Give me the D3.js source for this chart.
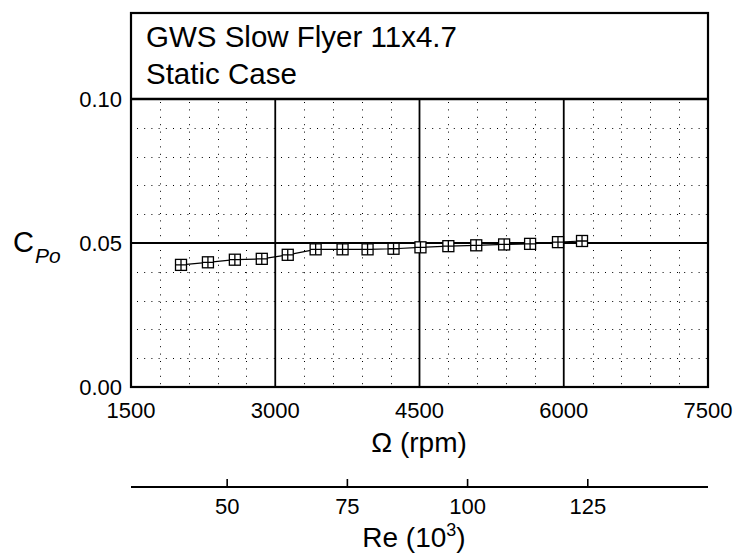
<!DOCTYPE html>
<html><head><meta charset="utf-8">
<script src="https://cdn.jsdelivr.net/npm/d3@7"></script>
<style>body{margin:0;background:#fff}svg{font-family:"Liberation Sans",Arial,sans-serif}</style>
</head><body><svg id="c" width="737" height="558"></svg>
<script>
const rpm = [2020, 2300, 2580, 2860, 3130, 3420, 3700, 3960, 4230, 4510, 4800, 5090, 5380, 5650, 5940, 6190];
const cpo = [0.0424, 0.0433, 0.0442, 0.0445, 0.0459, 0.0478, 0.0478, 0.0478, 0.0480, 0.0485, 0.0489, 0.0492, 0.0495, 0.0497, 0.0503, 0.0507];
const xTicks = [1500, 3000, 4500, 6000, 7500];
const yTicks = [0.00, 0.05, 0.10];
const reTicks = [50, 75, 100, 125];
const titleLines = ["GWS Slow Flyer 11x4.7", "Static Case"];

const svg = d3.select("#c");
const L = 131, R = 708, T = 99, B = 387;
const x = d3.scaleLinear().domain([1500, 7500]).range([L, R]);
const y = d3.scaleLinear().domain([0, 0.10]).range([B, T]);
const re = d3.scaleLinear().domain([30, 150]).range([L, R]);

// minor dotted grid
const xMinor = d3.range(1500, 7501, 300).filter(v => !xTicks.includes(v));
const yMinor = d3.range(0, 11).map(i => i / 100).filter(v => Math.abs(v - 0.05) > 1e-9 && v > 0 && v < 0.1);
const g = svg.append("g");
g.selectAll(".vx").data(xMinor).join("line")
  .attr("x1", d => Math.round(x(d)) + 0.5).attr("x2", d => Math.round(x(d)) + 0.5)
  .attr("y1", T + 3).attr("y2", B)
  .attr("stroke", "#000").attr("stroke-width", 1).attr("stroke-dasharray", "1 6.4");
g.selectAll(".hy").data(yMinor).join("line")
  .attr("y1", d => Math.round(y(d)) + 0.5).attr("y2", d => Math.round(y(d)) + 0.5)
  .attr("x1", L + 6).attr("x2", R)
  .attr("stroke", "#000").attr("stroke-width", 1).attr("stroke-dasharray", "1 6.2");

// major solid grid
g.selectAll(".mx").data(xTicks.slice(1, -1)).join("line")
  .attr("x1", d => x(d)).attr("x2", d => x(d)).attr("y1", T).attr("y2", B)
  .attr("stroke", "#000").attr("stroke-width", 1.8);
g.selectAll(".my").data(yTicks.slice(1, -1)).join("line")
  .attr("y1", d => y(d)).attr("y2", d => y(d)).attr("x1", L).attr("x2", R)
  .attr("stroke", "#000").attr("stroke-width", 2);

// frame and title box
svg.append("rect").attr("x", L).attr("y", 13).attr("width", R - L).attr("height", B - 13)
  .attr("fill", "none").attr("stroke", "#000").attr("stroke-width", 2.2);
svg.append("line").attr("x1", L).attr("x2", R).attr("y1", T).attr("y2", T)
  .attr("stroke", "#000").attr("stroke-width", 2.4);
titleLines.forEach((t, i) => {
  svg.append("text").attr("x", 146).attr("y", 47 + i * 37).attr("font-size", 29.5).text(t);
});

// y tick labels
svg.selectAll(".yl").data(yTicks).join("text")
  .attr("x", 122).attr("y", d => y(d) + 8).attr("text-anchor", "end").attr("font-size", 22)
  .text(d => d3.format(".2f")(d));
// x tick labels
svg.selectAll(".xl").data(xTicks).join("text")
  .attr("x", d => x(d)).attr("y", 418).attr("text-anchor", "middle").attr("font-size", 22)
  .text(d => d);

// axis titles
svg.append("text").attr("x", 419).attr("y", 452).attr("text-anchor", "middle").attr("font-size", 28)
  .text("Ω (rpm)");
const cy = svg.append("text").attr("x", 13).attr("y", 252).attr("font-size", 29);
cy.append("tspan").text("C");
cy.append("tspan").attr("font-size", 21).attr("font-style", "italic").attr("dx", 1).attr("dy", 11).text("Po");

// data
const line = d3.line().x(d => x(d[0])).y(d => y(d[1]));
const pts = rpm.map((r, i) => [r, cpo[i]]);
svg.append("path").datum(pts).attr("d", line).attr("fill", "none").attr("stroke", "#000").attr("stroke-width", 1.2);
const s = 5.5;
const mk = svg.selectAll(".m").data(pts).join("g").attr("transform", d => `translate(${x(d[0])},${y(d[1])})`);
mk.append("rect").attr("x", -s).attr("y", -s).attr("width", 2 * s).attr("height", 2 * s)
  .attr("fill", "#fff").attr("stroke", "#000").attr("stroke-width", 1.3);
mk.append("path").attr("d", `M${-s},0H${s}M0,${-s}V${s}`).attr("stroke", "#000").attr("stroke-width", 1.3);

// secondary Re axis
const ay = 487;
svg.append("line").attr("x1", L).attr("x2", R).attr("y1", ay).attr("y2", ay).attr("stroke", "#000").attr("stroke-width", 2);
svg.selectAll(".rt").data(reTicks).join("line")
  .attr("x1", d => re(d)).attr("x2", d => re(d)).attr("y1", ay - 8).attr("y2", ay)
  .attr("stroke", "#000").attr("stroke-width", 1.6);
svg.selectAll(".rl").data(reTicks).join("text")
  .attr("x", d => re(d)).attr("y", 514).attr("text-anchor", "middle").attr("font-size", 22).text(d => d);
const rt = svg.append("text").attr("x", 414).attr("y", 547).attr("text-anchor", "middle").attr("font-size", 28);
rt.append("tspan").text("Re (10");
rt.append("tspan").attr("font-size", 18).attr("dy", -11).text("3");
rt.append("tspan").attr("dy", 11).text(")");
</script></body></html>
